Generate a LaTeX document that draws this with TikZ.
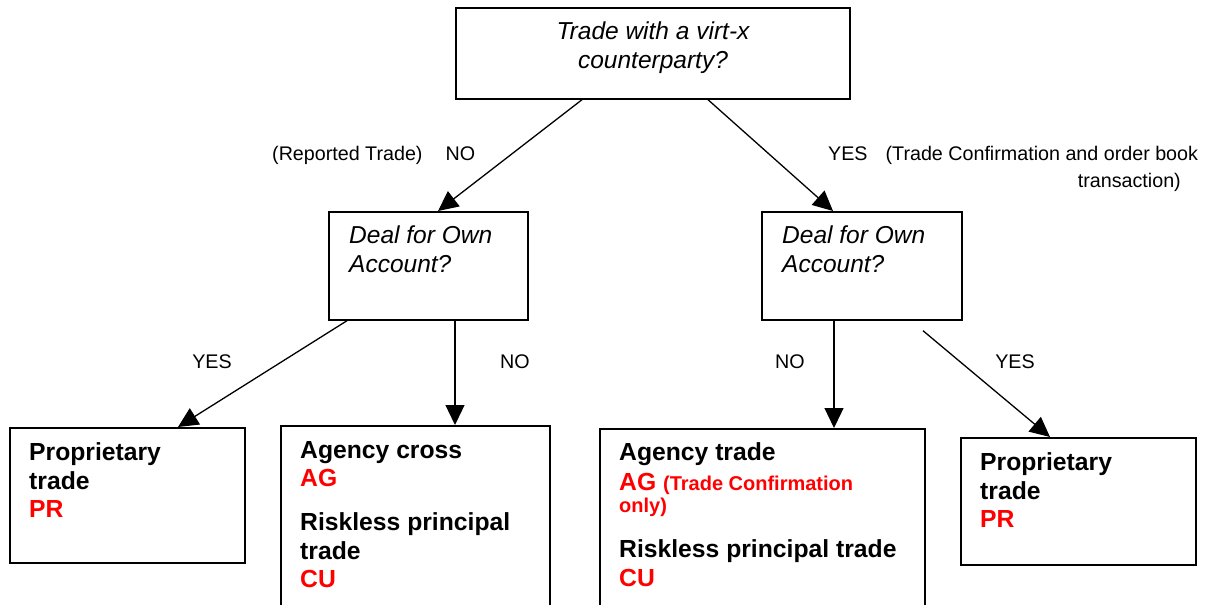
\documentclass[tikz,border=0pt]{standalone}
\usepackage{fontspec}
\setmainfont{Liberation Sans}
\usetikzlibrary{arrows.meta}
\definecolor{codered}{RGB}{255,0,0}
\tikzset{
  box/.style={draw=black, line width=1.7pt, rectangle, inner sep=0pt, anchor=north west},
  arr/.style={draw=black, line width=1.3pt, -{Triangle[length=20pt,width=19pt]}},
  qtext/.style={inner sep=0pt, font=\fontsize{24.5}{28.5}\selectfont\itshape},
  btext/.style={inner sep=0pt, anchor=base west, font=\fontsize{24.7}{28.5}\selectfont\bfseries},
  rtext/.style={btext, text=codered},
  lbl/.style={inner sep=0pt, font=\fontsize{19.7}{23}\selectfont}
}
\begin{document}
\begin{tikzpicture}[x=1pt,y=-1pt]
\useasboundingbox (0,0) rectangle (1208,605);
% boxes
\node[box, minimum width=394pt, minimum height=91pt] (q0) at (455,7) {};
\node[box, minimum width=199pt, minimum height=108pt] (q1) at (328,211) {};
\node[box, minimum width=200pt, minimum height=108pt] (q2) at (761,211) {};
\node[box, minimum width=235pt, minimum height=135pt] (b1) at (9,427) {};
\node[box, minimum width=269pt, minimum height=200pt] (b2) at (280,425) {};
\node[box, minimum width=325pt, minimum height=200pt] (b3) at (599,428) {};
\node[box, minimum width=235pt, minimum height=127pt] (b4) at (960,437) {};
% question texts
\node[qtext, anchor=base] (t0a) at (653,39) {Trade with a virt-x};
\node[qtext, anchor=base] (t0b) at (653,68) {counterparty?};
\node[qtext, anchor=base west] (t1a) at (349,243) {Deal for Own};
\node[qtext, anchor=base west] (t1b) at (349,272) {Account?};
\node[qtext, anchor=base west] (t2a) at (782,243) {Deal for Own};
\node[qtext, anchor=base west] (t2b) at (782,272) {Account?};
% outcome texts
\node[btext] (p1a) at (29,460) {Proprietary};
\node[btext] (p1b) at (29,489) {trade};
\node[rtext] (p1c) at (29,517) {PR};
\node[btext] (c2a) at (300,458) {Agency cross};
\node[rtext] (c2b) at (300,486) {AG};
\node[btext] (c2c) at (300,530) {Riskless principal};
\node[btext] (c2d) at (300,559) {trade};
\node[rtext] (c2e) at (300,587) {CU};
\node[btext] (c3a) at (619,460) {Agency trade};
\node[rtext] (c3b) at (619,490) {AG {\fontsize{20}{23}\selectfont(Trade Confirmation}};
\node[rtext, font=\fontsize{20}{23}\selectfont\bfseries] (c3c) at (619,512) {only)};
\node[btext] (c3d) at (619,557) {Riskless principal trade};
\node[rtext] (c3e) at (619,586) {CU};
\node[btext] (p4a) at (980,470) {Proprietary};
\node[btext] (p4b) at (980,499) {trade};
\node[rtext] (p4c) at (980,527) {PR};
% arrows
\draw[arr] ([xshift=127pt]q0.south west) -- ([xshift=110pt]q1.north west);
\draw[arr] ([xshift=253pt]q0.south west) -- ([xshift=72pt]q2.north west);
\draw[arr] ([xshift=19pt]q1.south west) -- ([xshift=169pt]b1.north west);
\draw[arr] ([xshift=127pt]q1.south west) -- ([xshift=175pt]b2.north west);
\draw[arr] ([xshift=73pt]q2.south west) -- ([xshift=235pt]b3.north west);
\draw[arr] ([xshift=162pt,yshift=-10pt]q2.south west) -- ([xshift=90pt]b4.north west);
% labels
\node[lbl, anchor=base west] (l1) at (272,160) {(Reported Trade)\hspace{23pt}NO};
\node[lbl, anchor=base west] (l2) at (828,160) {YES\hspace{18pt}(Trade Confirmation and order book};
\node[lbl, anchor=base east] (l3) at (1181,187) {transaction)};
\node[lbl, anchor=base] (l4) at (212,368) {YES};
\node[lbl, anchor=base] (l5) at (515,368) {NO};
\node[lbl, anchor=base] (l6) at (790,368) {NO};
\node[lbl, anchor=base] (l7) at (1015,368) {YES};
\end{tikzpicture}
\end{document}
